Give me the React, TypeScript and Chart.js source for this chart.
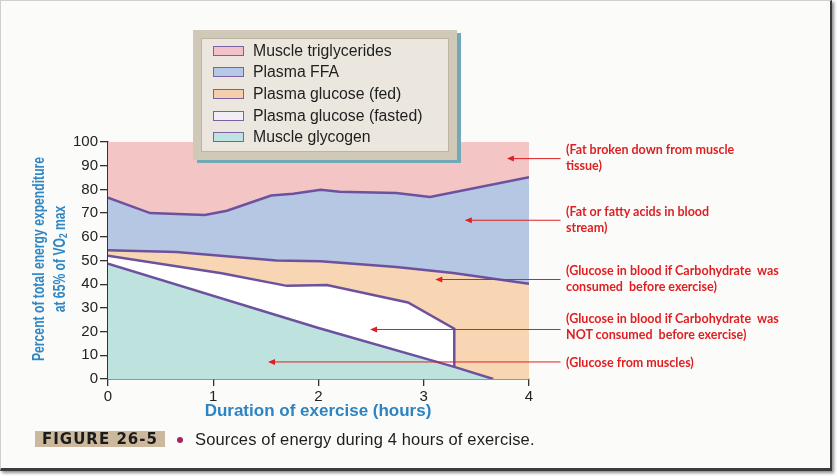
import React, { useEffect, useRef } from "react";
import { Chart, registerables } from "chart.js";

Chart.register(...registerables);

// ---- Data (hours vs cumulative % of total energy expenditure) ----
const xTicks = [0, 1, 2, 3, 4];
const yMin = 0;
const yMax = 100;
const yStep = 10;

const seriesNames = [
  "Muscle triglycerides",
  "Plasma FFA",
  "Plasma glucose (fed)",
  "Plasma glucose (fasted)",
  "Muscle glycogen",
];
const fillColors = ["#f4c5c5", "#b6c7e3", "#f8d6b3", "#ffffff", "#bee3df"];
const swatchColors = ["#f3c2c8", "#b5c8e6", "#f5cfac", "#f1eef6", "#bfe3e0"];

// top boundary of each layer (stacked)
const triglycTopX = [0, 4];
const triglycTopY = [100, 100];

const ffaTopX = [0, 0.4, 0.92, 1.13, 1.55, 1.76, 2.02, 2.2, 2.74, 3.06, 4];
const ffaTopY = [76.5, 70.0, 69.2, 71.0, 77.4, 78.2, 79.8, 79.0, 78.5, 76.8, 85.1];

const fedTopX = [0, 0.65, 1.6, 2.02, 2.74, 3.28, 4];
const fedTopY = [54.3, 53.6, 50.0, 49.7, 47.3, 44.7, 40.2];

const fastedTopX = [0, 1.08, 1.7, 2.08, 2.85, 3.29, 3.29];
const fastedTopY = [52.0, 44.6, 39.3, 39.7, 32.3, 21.2, 5.1];

const glycogenTopX = [0, 2.0, 3.29, 3.66];
const glycogenTopY = [48.7, 21.5, 5.1, 0];

// ---- Annotations ----
const noteLines = [
  ["(Fat broken down from muscle", "tissue)"],
  ["(Fat or fatty acids in blood", "stream)"],
  ["(Glucose in blood if Carbohydrate  was", "consumed  before exercise)"],
  ["(Glucose in blood if Carbohydrate  was", "NOT consumed  before exercise)"],
  ["(Glucose from muscles)"],
];
const noteTops = [142, 204, 263, 311, 355];
const arrowTipX = [3.79, 3.39, 3.11, 2.49, 1.52];
const arrowTipY = [93.2, 67.2, 42.2, 21.1, 7.4];
const arrowTailX = 4.3;

const LINE = "#6c529e";
const RED = "#df1f22";
const BLUE = "#2c84c2";

const pts = (xs: number[], ys: number[]) => xs.map((x, i) => ({ x, y: ys[i] }));

const arrowPlugin = {
  id: "arrowNotes",
  afterDatasetsDraw(chart: any) {
    const { ctx } = chart;
    const xs = chart.scales.x;
    const ys = chart.scales.y;
    ctx.save();
    ctx.strokeStyle = RED;
    ctx.fillStyle = RED;
    ctx.lineWidth = 1;
    arrowTipX.forEach((tx, i) => {
      const px = xs.getPixelForValue(tx);
      const py = ys.getPixelForValue(arrowTipY[i]);
      const sx = xs.getPixelForValue(arrowTailX);
      ctx.beginPath();
      ctx.moveTo(sx, py + 0.5);
      ctx.lineTo(px + 5, py + 0.5);
      ctx.stroke();
      ctx.beginPath();
      ctx.moveTo(px, py + 0.5);
      ctx.lineTo(px + 7, py - 2.5);
      ctx.lineTo(px + 7, py + 3.5);
      ctx.closePath();
      ctx.fill();
    });
    ctx.restore();
  },
};

export default function App() {
  const canvasRef = useRef<HTMLCanvasElement | null>(null);

  useEffect(() => {
    if (!canvasRef.current) return;
    const lineDs = (label: string, data: any[], bg: string, bw: number) => ({
      label,
      data,
      backgroundColor: bg,
      borderColor: LINE,
      borderWidth: bw,
      fill: "origin",
      pointRadius: 0,
      tension: 0,
    });
    const chart = new Chart(canvasRef.current, {
      type: "line",
      data: {
        datasets: [
          lineDs(seriesNames[4], pts(glycogenTopX, glycogenTopY), fillColors[4], 2.5),
          lineDs(seriesNames[3], pts(fastedTopX, fastedTopY), fillColors[3], 2.5),
          lineDs(seriesNames[2], pts(fedTopX, fedTopY), fillColors[2], 2.5),
          lineDs(seriesNames[1], pts(ffaTopX, ffaTopY), fillColors[1], 2.5),
          lineDs(seriesNames[0], pts(triglycTopX, triglycTopY), fillColors[0], 0),
        ],
      },
      options: {
        responsive: false,
        animation: false,
        events: [],
        layout: { padding: { left: 58, right: 308, top: 142, bottom: 67 } },
        plugins: { legend: { display: false }, tooltip: { enabled: false } },
        scales: {
          x: {
            type: "linear",
            min: xTicks[0],
            max: xTicks[xTicks.length - 1],
            afterBuildTicks: (s: any) => {
              s.ticks = xTicks.map((v) => ({ value: v }));
            },
            afterFit: (s: any) => {
              s.height = 30;
            },
            ticks: {
              color: "#222",
              padding: 2,
              font: { family: "Liberation Sans", size: 15 },
            },
            grid: { drawOnChartArea: false, tickLength: 7, color: "#333", lineWidth: 1.3 },
            border: { display: true, color: "#333", width: 1.5 },
          },
          y: {
            type: "linear",
            min: yMin,
            max: yMax,
            ticks: {
              stepSize: yStep,
              color: "#222",
              padding: 2,
              font: { family: "Liberation Sans", size: 15 },
            },
            afterFit: (s: any) => {
              s.width = 50;
            },
            grid: { drawOnChartArea: false, tickLength: 8, color: "#333", lineWidth: 1.3 },
            border: { display: true, color: "#333", width: 1.5 },
          },
        },
      },
      plugins: [arrowPlugin],
    } as any);
    return () => chart.destroy();
  }, []);

  const abs = (s: React.CSSProperties): React.CSSProperties => ({ position: "absolute", ...s });

  return (
    <div style={abs({ left: 0, top: 0, width: 837, height: 476, overflow: "hidden", background: "#ffffff", fontFamily: "Liberation Sans, Arial, sans-serif" })}>
      <div
        style={abs({
          left: 0,
          top: 0,
          width: 832,
          height: 471,
          boxSizing: "border-box",
          background: "#fbfbfa",
          borderLeft: "1px solid #cfcfcf",
          borderTop: "1px solid #cfcfcf",
          borderRight: "2px solid #3c3c3c",
          borderBottom: "3px solid #3c3c3c",
          boxShadow: "2px 2px 3px rgba(0,0,0,0.45)",
        })}
      />
      <canvas ref={canvasRef} width={837} height={476} style={abs({ left: 0, top: 0, width: 837, height: 476 })} />

      {/* Legend */}
      <div
        style={abs({
          left: 193,
          top: 30,
          width: 264,
          height: 130,
          boxSizing: "border-box",
          background: "#ebe7de",
          border: "8px solid #d0c9b7",
          boxShadow: "inset 0 0 0 1px #bdb5a2, 4px 3px 0 #72a8b8",
        })}
      >
        {seriesNames.map((name, i) => (
          <div key={name} style={abs({ left: 12, top: 2 + i * 21.7, height: 21, display: "flex", alignItems: "center" })}>
            <div
              style={{
                width: 31,
                height: 10,
                boxSizing: "border-box",
                background: swatchColors[i],
                border: "1.5px solid #7d5fa3",
              }}
            />
            <div style={{ marginLeft: 9, fontSize: 15.8, color: "#1e1e1e", whiteSpace: "nowrap" }}>{name}</div>
          </div>
        ))}
      </div>

      {/* Y axis title */}
      <div
        style={abs({
          left: 51,
          top: 259,
          transform: "translate(-50%, -50%) rotate(-90deg) scaleX(0.76)",
          color: BLUE,
          fontWeight: "bold",
          fontSize: 16,
          lineHeight: "21px",
          textAlign: "center",
          whiteSpace: "nowrap",
        })}
      >
        <div>Percent of total energy expenditure</div>
        <div>
          at 65% of VO<sub style={{ fontSize: 11, verticalAlign: "-2px" }}>2</sub> max
        </div>
      </div>

      {/* X axis title */}
      <div
        style={abs({
          left: 318,
          top: 411,
          transform: "translate(-50%, -50%)",
          color: BLUE,
          fontWeight: "bold",
          fontSize: 17,
          whiteSpace: "nowrap",
        })}
      >
        Duration of exercise (hours)
      </div>

      {/* Annotation texts */}
      {noteLines.map((lines, i) => (
        <div
          key={i}
          style={abs({
            left: 566,
            top: noteTops[i],
            color: RED,
            fontFamily: "Lato, sans-serif",
            fontWeight: "bold",
            fontSize: 12.5,
            lineHeight: "16px",
            whiteSpace: "pre",
          })}
        >
          {lines.map((l, j) => (
            <div key={j}>{l}</div>
          ))}
        </div>
      ))}

      {/* Caption */}
      <div
        style={abs({
          left: 35,
          top: 431,
          width: 130,
          height: 16,
          background: "#cbb89d",
          color: "#1b1b1b",
          fontFamily: "DejaVu Sans, sans-serif",
          fontWeight: "bold",
          fontSize: 15,
          lineHeight: "16px",
          letterSpacing: 1,
          textAlign: "center",
          whiteSpace: "nowrap",
        })}
      >
        FIGURE 26-5
      </div>
      <div style={abs({ left: 176.5, top: 436.5, width: 6, height: 6, borderRadius: 3, background: "#a3265c" })} />
      <div style={abs({ left: 195, top: 430, fontSize: 16.5, letterSpacing: 0.15, lineHeight: "18px", color: "#1e1e1e", whiteSpace: "nowrap" })}>
        Sources of energy during 4 hours of exercise.
      </div>
    </div>
  );
}
